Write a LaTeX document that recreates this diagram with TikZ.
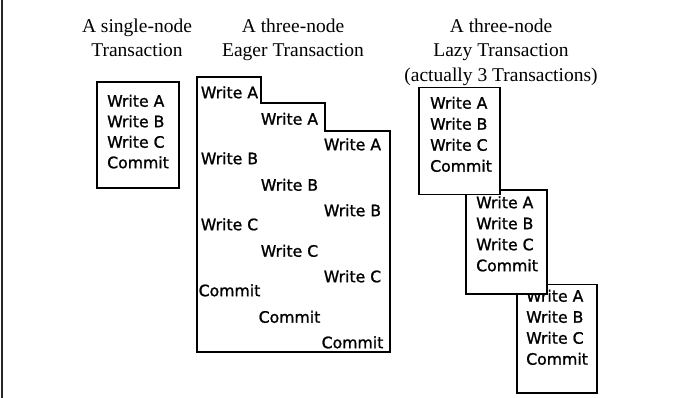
\documentclass[tikz,border=0pt]{standalone}
\usepackage{fontspec}
\setmainfont{Liberation Serif}
\newfontfamily\opfont[FakeBold=1.2]{DejaVu Sans}
\begin{document}
\begin{tikzpicture}[x=1pt,y=-1pt,
  head/.style={font=\fontsize{19.5}{24}\selectfont, inner sep=0pt, anchor=base},
  op/.style={font=\opfont\fontsize{15.7}{20}\selectfont, inner sep=0pt},
  frame/.style={draw=black, line width=1.8pt, fill=white, inner sep=0pt, anchor=north west},
]
\useasboundingbox (0,0) rectangle (685,398);

% page margin rule on the left
\draw[line width=1.6pt, black!85] (2,0) -- (2,398);

% column headings
\node[head] (h1a) at (137,32.5) {A single-node};
\node[head] (h1b) at (137,57)   {Transaction};
\node[head] (h2a) at (293,32.5) {A three-node};
\node[head] (h2b) at (293,57)   {Eager Transaction};
\node[head] (h3a) at (501,32.5) {A three-node};
\node[head] (h3b) at (501,57)   {Lazy Transaction};
\node[head] (h3c) at (501,81.5) {(actually 3 Transactions)};

% single-node transaction
\node[frame, minimum width=82pt, minimum height=106pt] (single) at (96,81) {};
\foreach \t [count=\i] in {Write A, Write B, Write C, Commit}
  \node[op, anchor=base west] (s\i) at (107,{106.7+20.5*(\i-1)}) {\t};

% eager transaction: one outline stepping down across the three nodes
\draw[line width=1.8pt] (197,77) -- (261,77) -- (261,103) -- (325,103)
  -- (325,131) -- (390,131) -- (390,352) -- (197,352) -- cycle;
\foreach \t [count=\k from 0] in {Write A, Write B, Write C, Commit}
  \foreach \cx/\by [count=\c] in {229.5/98.2, 289.5/124.7, 352.5/150.2}
    \node[op, anchor=base] (e\k\c) at (\cx,{\by+66*\k}) {\t};

% lazy transaction: three separate transactions, later ones behind earlier ones
\node[frame, minimum width=80pt, minimum height=108.5pt] (lz3) at (516,283.5) {};
\foreach \t [count=\i] in {Write A, Write B, Write C, Commit}
  \node[op, anchor=base west] (c\i) at (526,{301.7+21*(\i-1)}) {\t};

\node[frame, minimum width=81pt, minimum height=104pt] (lz2) at (465,189) {};
\foreach \t [count=\i] in {Write A, Write B, Write C, Commit}
  \node[op, anchor=base west] (b\i) at (476,{208.2+21*(\i-1)}) {\t};

\node[frame, minimum width=81pt, minimum height=107pt] (lz1) at (418,86.7) {};
\foreach \t [count=\i] in {Write A, Write B, Write C, Commit}
  \node[op, anchor=base west] (a\i) at (430,{108.7+21*(\i-1)}) {\t};
\end{tikzpicture}
\end{document}
